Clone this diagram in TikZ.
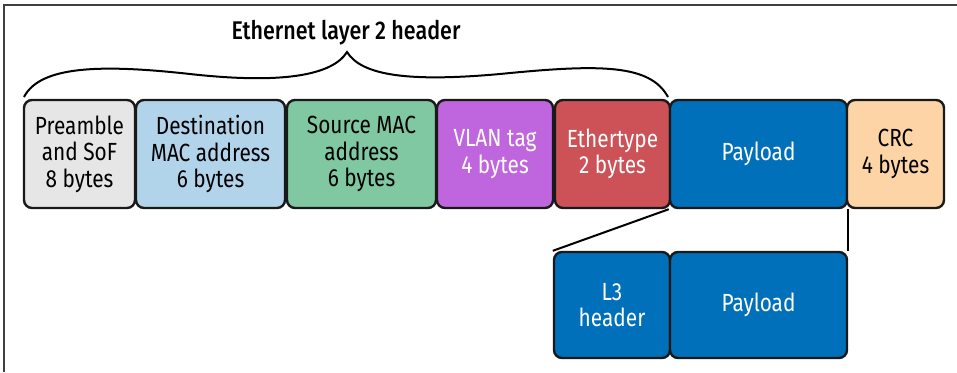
\documentclass[tikz,border=0pt]{standalone}
\usepackage{fontspec}
\setmainfont[FakeStretch=0.84]{Fira Sans}
\newfontfamily\titlefont[FakeStretch=0.84]{Fira Sans Medium}
\usepackage{tikz}

\definecolor{pregray}{HTML}{E6E6E6}
\definecolor{dstblue}{HTML}{B2D4EA}
\definecolor{srcgreen}{HTML}{7FC8A1}
\definecolor{vlanpurple}{HTML}{BF66DE}
\definecolor{ethred}{HTML}{CC5258}
\definecolor{payblue}{HTML}{0070BA}
\definecolor{crcpeach}{HTML}{FCD4A6}

\begin{document}
\begin{tikzpicture}[x=0.5pt,y=-0.5pt,
  field/.style={draw=black!90,line width=1.2pt,rounded corners=4pt,inner sep=0pt,
    align=center,minimum height=54pt,font=\fontsize{12.4}{13.3}\selectfont},
  darkfield/.style={field,text=white}]
\useasboundingbox (0,0) rectangle (957,372);
\draw[line width=1pt,black!75] (4,372) -- (4,5) -- (957,5);
% top row
\node[field,fill=pregray,minimum width=55.5pt] (pre) at (79.5,154) {Preamble\\and SoF\\8 bytes};
\node[field,fill=dstblue,minimum width=74.5pt] (dst) at (210.5,154) {Destination\\MAC address\\6 bytes};
\node[field,fill=srcgreen,minimum width=74.5pt] (src) at (361.5,154) {Source MAC\\address\\6 bytes};
\node[darkfield,fill=vlanpurple,minimum width=58pt] (vlan) at (495,154) {VLAN tag\\4 bytes};
\node[darkfield,fill=ethred,minimum width=57.5pt] (eth) at (612.5,154) {Ethertype\\2 bytes};
\node[darkfield,fill=payblue,minimum width=88.5pt] (pay) at (758.5,154) {Payload};
\node[field,fill=crcpeach,minimum width=48.5pt] (crc) at (895.5,154) {CRC\\4 bytes};
% bottom row
\node[darkfield,fill=payblue,minimum width=58pt,minimum height=53pt] (l3) at (612,305) {L3\\header};
\node[darkfield,fill=payblue,minimum width=88.5pt,minimum height=53pt] (pay2) at (758.5,305) {Payload};
\draw[line width=1pt] (pay.south west) -- (l3.north west);
\draw[line width=1pt] (pay.south east) -- (pay2.north east);
% brace
\draw[line width=1pt] (24,97) .. controls (40,66) and (100,64) .. (190,74)
  .. controls (280,84) and (332,76) .. (347,52)
  .. controls (362,76) and (410,82) .. (500,74)
  .. controls (600,64) and (650,64) .. (668,97);
\node[font=\fontsize{12.8}{14}\selectfont\titlefont] (title) at (346,33) {Ethernet layer 2 header};
\end{tikzpicture}
\end{document}
